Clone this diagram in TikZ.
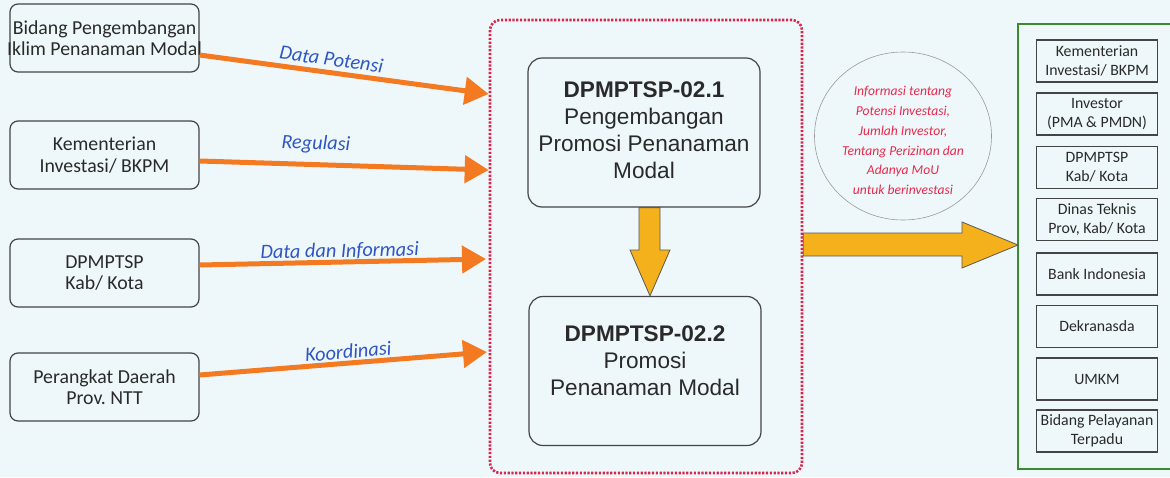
\documentclass[tikz,border=0pt]{standalone}
\usepackage{fontspec}
\setmainfont{Carlito}
\newfontfamily\arialf{Liberation Sans}
\usetikzlibrary{arrows.meta,shapes.geometric,calc}
\definecolor{bgc}{HTML}{EEF8FB}
\definecolor{orng}{HTML}{F47A22}
\definecolor{lblue}{HTML}{2F55C4}
\definecolor{pinkred}{HTML}{E8294B}
\definecolor{dotred}{HTML}{D9254A}
\definecolor{gold}{HTML}{F5B11B}
\definecolor{grn}{HTML}{3A8A2E}
\definecolor{boxline}{HTML}{444444}
\definecolor{txt}{HTML}{2A2A2A}
\tikzset{
  lbox/.style={draw=boxline, rounded corners=8pt, line width=1.2pt, minimum width=189pt, minimum height=68pt, align=center, inner sep=2pt, text=txt, font=\fontsize{19.8}{21.5}\selectfont},
  cbox/.style={draw=boxline, rounded corners=14pt, line width=1.2pt, minimum width=232pt, minimum height=149pt},
  ctext/.style={align=center, text=txt, font=\arialf\fontsize{22.6}{27}\selectfont},
  rbox/.style={draw=boxline, line width=1.2pt, minimum width=121pt, minimum height=42pt, align=center, inner sep=1pt, text=txt, font=\fontsize{15.8}{19}\selectfont},
  flow/.style={draw=orng, line width=5pt, -{Triangle[length=24pt,width=27pt]}},
  flowlbl/.style={text=lblue, font=\itshape\fontsize{20.3}{22}\selectfont, sloped, inner sep=0pt},
  blockarrow/.style={fill=gold, draw=gray!70!black, line width=0.8pt, line join=miter}
}
\begin{document}
\frenchspacing
\begin{tikzpicture}[x=1pt,y=-1pt]
\useasboundingbox (0,0) rectangle (1170,477);
\fill[bgc] (0,0) rectangle (1170,477);

% left boxes
\node[lbox] (b1) at (104.5,38) {\makebox[185pt]{Bidang Pengembangan}\\\makebox[185pt]{Iklim Penanaman Modal}};
\node[lbox] (b2) at (104.5,155) {Kementerian\\Investasi/ BKPM};
\node[lbox] (b3) at (104.5,273) {DPMPTSP\\Kab/ Kota};
\node[lbox] (b4) at (104.5,387) {Perangkat Daerah\\Prov. NTT};

% dotted group
\node[draw=dotred, line width=2.6pt, dash pattern=on 2.2pt off 1.6pt, rounded corners=10pt, minimum width=312pt, minimum height=453pt] (grp) at (646,246.5) {};

% arrow endpoints
\coordinate (s1) at (200,55);   \coordinate (t1) at (490,94);
\coordinate (s2) at (200,161);  \coordinate (t2) at (490,170);
\coordinate (s3) at (200,265);  \coordinate (t3) at (486,259);
\coordinate (s4) at (200,375);  \coordinate (t4) at (487,352);

\draw[flow] (b1.east |- s1) -- (grp.west |- t1) node[flowlbl, pos=0.45, above=4pt] (l1) {Data Potensi};
\draw[flow] (b2.east |- s2) -- (grp.west |- t2) node[flowlbl, pos=0.4, above=9pt] (l2) {Regulasi};
\draw[flow] (b3.east |- s3) -- (t3) node[flowlbl, pos=0.49, above=0pt] (l3) {Data dan Informasi};
\draw[flow] (b4.east |- s4) -- (t4) node[flowlbl, pos=0.52, above=2pt] (l4) {Koordinasi};

% centre boxes
\node[cbox] (p1) at (644,132.5) {};
\node[ctext] (p1t) at (644,130) {\textbf{DPMPTSP-02.1}\\Pengembangan\\Promosi Penanaman\\Modal};
\node[cbox] (p2) at (645,371) {};
\node[ctext] (p2t) at (645,361) {\textbf{DPMPTSP-02.2}\\Promosi\\Penanaman Modal};

% yellow down arrow
\draw[blockarrow] (p1.south -| 639,0) -- (p1.south -| 660,0) -- (660,250) -- (670,250) -- (p2.north -| 650,0) -- (630,250) -- (639,250) -- cycle;

% ellipse
\node[ellipse, draw=gray!80, line width=0.6pt, minimum width=177pt, minimum height=168pt] (ell) at (903,136) {};
\node[align=center, text=pinkred, font=\itshape\fontsize{13.6}{19.8}\selectfont] (ellt) at (903,140.5) {Informasi tentang\\Potensi Investasi,\\Jumlah Investor,\\Tentang Perizinan dan\\Adanya MoU\\untuk berinvestasi};

% green box
\coordinate (g1) at (1018,24);
\coordinate (g2) at (1018,469);
\draw[grn, line width=2.6pt] (1176,24) -- (g1) -- (g2) -- (1176,469);

% big right arrow
\draw[blockarrow] (grp.east |- 0,233) -- (962,233) -- (962,222) -- (g1 |- 0,245) -- (962,268) -- (962,256) -- (grp.east |- 0,256) -- cycle;

% right boxes
\node[rbox] (r1) at (1097,61) {Kementerian\\Investasi/ BKPM};
\node[rbox] (r2) at (1097,114) {Investor\\(PMA \& PMDN)};
\node[rbox] (r3) at (1097,167.5) {DPMPTSP\\Kab/ Kota};
\node[rbox] (r4) at (1097,219.5) {Dinas Teknis\\Prov, Kab/ Kota};
\node[rbox] (r5) at (1097,274) {Bank Indonesia};
\node[rbox] (r6) at (1097,326.5) {Dekranasda};
\node[rbox] (r7) at (1097,379) {UMKM};
\node[rbox] (r8) at (1097,431) {Bidang Pelayanan\\Terpadu};
\end{tikzpicture}
\end{document}
